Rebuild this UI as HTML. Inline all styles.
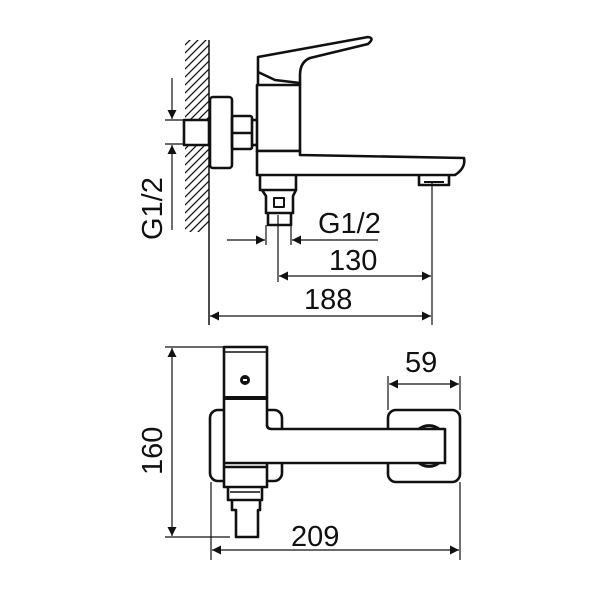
<!DOCTYPE html>
<html><head><style>html,body{margin:0;padding:0;background:#fff}svg{display:block}</style></head><body>
<svg width="600" height="600" viewBox="0 0 600 600" xmlns="http://www.w3.org/2000/svg">
<defs>
<marker id="a" viewBox="0 0 10 10" refX="10" refY="5" markerWidth="15" markerHeight="9" markerUnits="userSpaceOnUse" orient="auto-start-reverse"><path d="M0,0L10,5L0,10z" fill="#111"/></marker>
<clipPath id="wc"><rect x="185" y="40" width="24" height="192"/></clipPath>
</defs>
<g fill="none" stroke="#111" stroke-width="2.6" stroke-linejoin="round">
<g clip-path="url(#wc)" stroke-width="1.3">
<path d="M170,60l40,-40M170,68l40,-40M170,76l40,-40M170,84l40,-40M170,92l40,-40M170,100l40,-40M170,108l40,-40M170,116l40,-40M170,124l40,-40M170,132l40,-40M170,140l40,-40M170,148l40,-40M170,156l40,-40M170,164l40,-40M170,172l40,-40M170,180l40,-40M170,188l40,-40M170,196l40,-40M170,204l40,-40M170,212l40,-40M170,220l40,-40M170,228l40,-40M170,236l40,-40M170,244l40,-40M170,252l40,-40M170,260l40,-40"/>
</g>
<line x1="209" y1="40" x2="209" y2="325" stroke-width="1.5"/>
<rect x="184" y="120" width="25" height="25" fill="#fff"/>
<rect x="210" y="97" width="22" height="71" rx="3" fill="#fff"/>
<rect x="232" y="116" width="20" height="33" rx="2"/>
<line x1="232" y1="133" x2="252" y2="133"/>
<line x1="252" y1="120" x2="257" y2="120"/><line x1="252" y1="145" x2="257" y2="145"/>
<path d="M258,85L258,57L368,37Q375,38 368,44L310,58Q300,62 300,75L300,85"/>
<path d="M258,72L275,80L300,83"/>
<rect x="257" y="85" width="43" height="66"/>
<path d="M257,151L257,175L455,175Q466,168 464,158L300,155L300,151Z" fill="#fff"/>
<path d="M260,175L260,190L296,190L296,175"/>
<path d="M262,190L266,196L266,213L293,213L293,196L296,190"/>
<rect x="274" y="198" width="10" height="9" stroke-width="2"/>
<path d="M268,213L268,225L291,225L291,213"/>
<path d="M419,176L419,185L449,185L449,176"/>
<line x1="424" y1="182" x2="444" y2="182" stroke-width="2"/>
</g>
<g stroke="#111" stroke-width="1.2" fill="none">
<line x1="165" y1="120" x2="184" y2="120"/><line x1="165" y1="144" x2="184" y2="144"/>
<line x1="172" y1="78" x2="172" y2="119" marker-end="url(#a)"/>
<line x1="172" y1="145" x2="172" y2="230" marker-start="url(#a)"/>
<line x1="278" y1="215" x2="278" y2="282"/>
<line x1="266" y1="225" x2="266" y2="245"/><line x1="291" y1="225" x2="291" y2="245"/>
<line x1="432" y1="182" x2="432" y2="325"/>
<line x1="227" y1="240" x2="265" y2="240" marker-end="url(#a)"/>
<line x1="292" y1="240" x2="378" y2="240" marker-start="url(#a)"/>
<line x1="279" y1="276" x2="431" y2="276" marker-start="url(#a)" marker-end="url(#a)"/>
<line x1="210" y1="316" x2="431" y2="316" marker-start="url(#a)" marker-end="url(#a)"/>
</g>
<g font-family="Liberation Sans, sans-serif" font-size="29" fill="#111">
<text x="318" y="233">G1/2</text>
<text x="329" y="270">130</text>
<text x="304" y="309">188</text>
<text transform="translate(162,240) rotate(-90)">G1/2</text>
<text transform="translate(162,475) rotate(-90)">160</text>
<text x="291" y="546">209</text>
<text x="405" y="372">59</text>
</g>
<g fill="none" stroke="#111" stroke-width="2.6" stroke-linejoin="round">
<rect x="388" y="410" width="72" height="72" rx="8"/>
<path d="M418,430A16,16 0 0 1 440,430M418,462A16,16 0 0 0 440,462" stroke-width="3"/>
<rect x="210" y="410" width="72" height="71" rx="8"/>
<rect x="224" y="347" width="43" height="140" fill="#fff"/>
<line x1="224" y1="352" x2="267" y2="352" stroke-width="1.5"/>
<line x1="224" y1="398" x2="267" y2="398" stroke-width="4"/>
<line x1="224" y1="467" x2="267" y2="467"/>
<path d="M267,425Q267,429 272,429L445,429L445,463L224,463" fill="#fff"/>
<circle cx="245" cy="380" r="5" fill="#111" stroke="none"/>
<rect x="243" y="379" width="4" height="2" fill="#fff" stroke="none"/>
<path d="M228,487L228,500L262,500L262,487"/>
<line x1="230" y1="492" x2="260" y2="492" stroke-width="1.5"/>
<path d="M232,500L232,510L236,510L236,537L258,537L258,510L260,510L260,500"/>
</g>
<g stroke="#111" stroke-width="1.2" fill="none">
<line x1="165" y1="347" x2="223" y2="347"/><line x1="165" y1="537" x2="230" y2="537"/>
<line x1="172" y1="348" x2="172" y2="536" marker-start="url(#a)" marker-end="url(#a)"/>
<line x1="211" y1="482" x2="211" y2="560"/><line x1="460" y1="482" x2="460" y2="560"/>
<line x1="212" y1="550" x2="459" y2="550" marker-start="url(#a)" marker-end="url(#a)"/>
<line x1="388" y1="376" x2="388" y2="410"/><line x1="460" y1="376" x2="460" y2="410"/>
<line x1="389" y1="384" x2="459" y2="384" marker-start="url(#a)" marker-end="url(#a)"/>
</g>
</svg>
</body></html>
